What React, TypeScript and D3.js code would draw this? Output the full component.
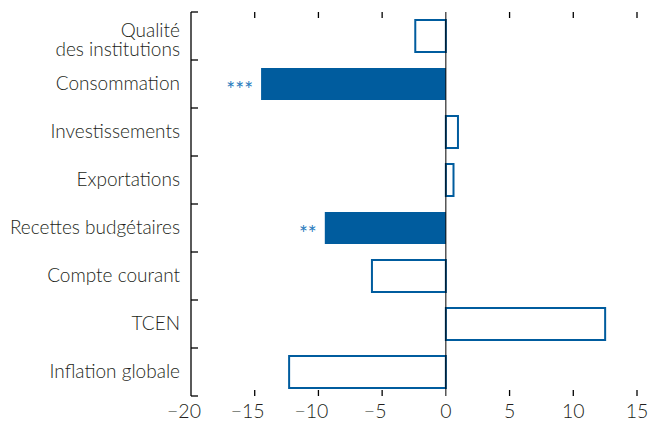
import React from "react";
import * as d3 from "d3";

const categories = [
  "Qualité\ndes institutions",
  "Consommation",
  "Investissements",
  "Exportations",
  "Recettes budgétaires",
  "Compte courant",
  "TCEN",
  "Inflation globale",
];
const values = [-2.4, -14.5, 0.95, 0.6, -9.5, -5.8, 12.5, -12.3];
const significant = [false, true, false, false, true, false, false, false];
const stars = ["", "***", "", "", "**", "", "", ""];
const xTicks = [-20, -15, -10, -5, 0, 5, 10, 15];

const W = 648;
const H = 422;
const margin = { left: 191, right: 11, top: 12, bottom: 26 };
const blue = "#005c9e";
const starBlue = "#2a7bbd";
const textColor = "#231f20";
const font = "Lato, 'Open Sans', sans-serif";

export default function App() {
  const x = d3.scaleLinear().domain([-20, 15]).range([margin.left, W - margin.right]);
  const y = d3
    .scaleBand<number>()
    .domain(d3.range(categories.length))
    .range([margin.top, H - margin.bottom])
    .paddingInner(1 / 3)
    .paddingOuter(1 / 6);
  const step = y.step();
  const boundaries = d3.range(categories.length + 1).map((i) => margin.top + i * step);
  const x0 = x(0);
  const top = margin.top;
  const bottom = H - margin.bottom;

  return (
    <svg width={W} height={H} style={{ position: "absolute", left: 0, top: 0 }}>
      <rect width={W} height={H} fill="#fff" />
      {values.map((v, i) => {
        const x1 = Math.min(x(v), x0);
        const w = Math.abs(x(v) - x0);
        const yy = y(i)!;
        const h = y.bandwidth();
        return significant[i] ? (
          <rect key={i} x={x1} y={yy} width={w} height={h} fill={blue} />
        ) : (
          <rect key={i} x={x1} y={yy} width={w} height={h} fill="none" stroke={blue} strokeWidth={2} />
        );
      })}
      {values.map((v, i) =>
        stars[i] ? (
          <text
            key={"s" + i}
            x={x(v) - 8}
            y={y(i)! + y.bandwidth() / 2}
            dy="0.62em"
            textAnchor="end"
            fill={starBlue}
            fontFamily={font}
            fontSize={21}
          >
            {stars[i]}
          </text>
        ) : null
      )}
      <line x1={x0} x2={x0} y1={top} y2={bottom} stroke="#000" strokeWidth={1} />
      <line x1={margin.left} x2={margin.left} y1={top} y2={bottom} stroke="#000" strokeWidth={1.3} />
      {boundaries.map((b, i) => (
        <line key={"b" + i} x1={margin.left} x2={margin.left + 7} y1={b} y2={b} stroke="#000" strokeWidth={1.3} />
      ))}
      {xTicks.map((t) => (
        <g key={"t" + t}>
          {t !== -20 && t !== 0 && (
            <line x1={x(t)} x2={x(t)} y1={top} y2={top + 6} stroke="#000" strokeWidth={1.3} />
          )}
          {t !== -20 && t !== 0 && (
            <line x1={x(t)} x2={x(t)} y1={bottom} y2={bottom - 6} stroke="#000" strokeWidth={1.3} />
          )}
          <text
            x={x(t) - (t < 0 ? 7 : 0)}
            y={bottom + 22}
            textAnchor="middle"
            fill={textColor}
            fontFamily={font}
            fontWeight={300}
            fontSize={19.5}
          >
            {t < 0 ? "\u2212" + Math.abs(t) : String(t)}
          </text>
        </g>
      ))}
      {categories.map((c, i) => {
        const lines = c.split("\n");
        const cy = y(i)! + y.bandwidth() / 2;
        const lh = 19;
        const first = lines.length > 1 ? cy + 0.5 : cy + 5.5;
        return (
          <text
            key={"c" + i}
            x={180}
            y={first}
            textAnchor="end"
            fill={textColor}
            fontFamily={font}
            fontWeight={300}
            fontSize={19}
          >
            {lines.map((l, j) => (
              <tspan key={j} x={180} dy={j === 0 ? 0 : lh}>
                {l}
              </tspan>
            ))}
          </text>
        );
      })}
    </svg>
  );
}
